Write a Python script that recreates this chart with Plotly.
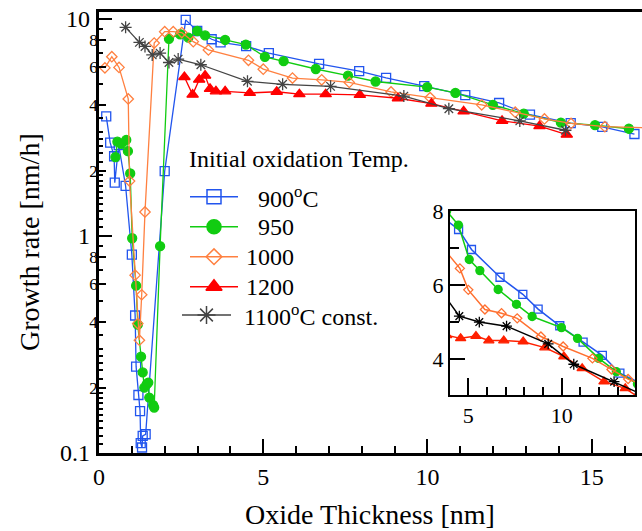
import plotly.graph_objects as go

# Growth rate [nm/h] versus oxide thickness [nm] for each initial oxidation temperature
x_900 = [0.22, 0.34, 0.46, 0.48, 0.60, 0.81, 1.00, 1.10, 1.13, 1.20, 1.25, 1.27, 1.31, 1.33, 1.42,
         2.00, 2.64, 2.99, 3.43, 3.70, 4.48, 5.17, 6.70, 7.92, 8.74, 9.90, 11.15, 12.18, 13.12,
         14.36, 15.32, 16.30]
y_900 = [3.56, 2.69, 2.33, 1.76, 2.62, 1.70, 0.82, 0.43, 0.25, 0.185, 0.156, 0.111, 0.106, 0.120, 0.122,
         1.99, 9.9, 8.8, 8.06, 7.8, 7.5, 6.96, 6.21, 5.75, 5.35, 4.9, 4.46, 4.1, 3.62,
         3.31, 3.18, 2.95]

x_950 = [0.50, 0.56, 0.68, 0.83, 0.88, 0.95, 1.01, 1.13, 1.18, 1.28, 1.33, 1.38, 1.45, 1.50, 1.53,
         1.65, 1.68, 1.86, 2.13, 2.47, 2.72, 2.99, 3.23, 3.84, 4.47, 5.05, 5.62, 6.60, 7.58, 8.42,
         9.99, 10.85, 11.99, 12.93, 14.06, 15.10, 16.13]
y_950 = [2.31, 2.72, 2.66, 2.77, 2.46, 1.94, 0.976, 0.59, 0.39, 0.278, 0.235, 0.200, 0.207, 0.211, 0.180,
         0.166, 0.162, 0.897, 8.1, 8.5, 8.2, 8.8, 8.4, 8.0, 7.62, 6.69, 6.39, 5.88, 5.48, 5.15,
         4.85, 4.56, 4.02, 3.66, 3.33, 3.24, 3.12]

x_1000 = [0.18, 0.39, 0.61, 0.89, 0.93, 1.10, 1.18, 1.23, 1.30, 1.40, 1.68, 2.00, 2.26, 2.52, 2.87,
          3.33, 4.55, 5.00, 5.89, 6.78, 7.62, 8.89, 10.08, 11.65, 12.67, 13.56, 14.37, 15.40, 16.70]
y_1000 = [5.95, 6.7, 5.98, 4.28, 1.79, 0.66, 0.395, 0.331, 0.536, 1.29, 7.74, 8.74, 8.74, 8.66, 7.86,
          7.2, 6.45, 5.87, 5.34, 5.24, 5.1, 4.61, 4.34, 4.02, 3.72, 3.46, 3.30, 3.19, 3.15]

x_1200 = [2.60, 2.85, 3.05, 3.23, 3.38, 3.56, 3.84, 4.59, 5.41, 6.10, 6.90, 7.94, 9.10, 10.12,
          11.10, 12.27, 13.41, 14.24]
y_1200 = [5.4, 4.48, 5.25, 5.48, 4.76, 4.64, 4.64, 4.56, 4.62, 4.5, 4.5, 4.47, 4.31, 4.07,
          3.75, 3.39, 3.21, 2.93]

x_1100c = [0.81, 1.23, 1.40, 1.62, 1.86, 2.13, 2.41, 3.10, 4.52, 5.59, 7.05, 9.28, 10.65, 12.81, 14.20]
y_1100c = [9.15, 7.8, 7.47, 6.83, 6.96, 6.3, 6.53, 6.15, 5.16, 5.0, 4.89, 4.41, 3.86, 3.39, 3.07]

legend_title = "Initial oxidation Temp."
legend_labels = ["900<sup>o</sup>C", "950", "1000", "1200", "1100<sup>o</sup>C const."]

x_ticks = [0, 5, 10, 15]
y_decades = [0.1, 1, 10]
y_decade_text = ["0.1", "1", "10"]
y_sub = [0.2, 0.4, 0.6, 0.8, 2, 4, 6, 8]
y_sub_text = ["2", "4", "6", "8", "2", "4", "6", "8"]

inset_x_ticks = [5, 10]
inset_y_ticks = [4, 6, 8]

FONT = "Liberation Serif, Times New Roman, serif"
W, H = 642, 531
L, R, T, B = 99, 0, 12, 78
PW, PH = W - L - R, H - T - B


def px(xp):
    return (xp - L) / PW


def py(yp):
    return (H - B - yp) / PH


series = [
    dict(x=x_900, y=y_900, color="#2255ee", symbol="square-open", size=9, lsize=14),
    dict(x=x_950, y=y_950, color="#11cc11", symbol="circle", size=9, lsize=14),
    dict(x=x_1000, y=y_1000, color="#ff8040", symbol="diamond-open", size=8, lsize=12),
    dict(x=x_1200, y=y_1200, color="#ff0000", symbol="triangle-up", size=10, lsize=14),
    dict(x=x_1100c, y=y_1100c, color="#444444", symbol="asterisk-open", size=10, lsize=15),
]
inset_colors = ["#2255ee", "#11cc11", "#ff7030", "#ff2000", "#000000"]

fig = go.Figure()

# main panel
for s in series:
    fig.add_trace(go.Scatter(
        x=s["x"], y=s["y"], mode="lines+markers",
        line=dict(color=s["color"], width=1.3),
        marker=dict(symbol=s["symbol"], size=s["size"], color=s["color"],
                    line=dict(color=s["color"], width=1.3)),
        xaxis="x", yaxis="y", showlegend=False, hoverinfo="skip"))

# empty trace so the decade-label axis gets drawn
fig.add_trace(go.Scatter(x=[None], y=[None], mode="markers", xaxis="x", yaxis="y2",
                         showlegend=False, hoverinfo="skip"))

# inset panel (same data, linear scale)
for s, c in zip(series, inset_colors):
    fig.add_trace(go.Scatter(
        x=s["x"], y=s["y"], mode="lines+markers",
        line=dict(color=c, width=1.5),
        marker=dict(symbol=s["symbol"], size=s["size"] - 1, color=c,
                    line=dict(color=c, width=1.3)),
        xaxis="x4", yaxis="y4", showlegend=False, hoverinfo="skip"))

# hand-placed legend (pixel coordinate overlay)
leg_rows = [
    (196.7, 190, 238, 256),
    (226.7, 190, 238, 256),
    (256.7, 190, 238, 244),
    (286.7, 190, 238, 244),
    (315.0, 182, 231, 242),
]
annotations = []
for s, lab, (yy, x0, x1, xt) in zip(series, legend_labels, leg_rows):
    fig.add_trace(go.Scatter(
        x=[x0, x1], y=[yy, yy], mode="lines", line=dict(color=s["color"], width=1.5),
        xaxis="x3", yaxis="y3", showlegend=False, hoverinfo="skip"))
    fig.add_trace(go.Scatter(
        x=[(x0 + x1) / 2], y=[yy], mode="markers",
        marker=dict(symbol=s["symbol"], size=s["lsize"], color=s["color"],
                    line=dict(color=s["color"], width=1.5)),
        xaxis="x3", yaxis="y3", showlegend=False, hoverinfo="skip"))
    annotations.append(dict(x=px(xt), y=py(yy), xref="paper", yref="paper", text=lab,
                            showarrow=False, xanchor="left", yanchor="middle",
                            font=dict(family=FONT, size=24, color="black")))

annotations.append(dict(x=px(187), y=py(159), xref="paper", yref="paper", text=legend_title,
                        showarrow=False, xanchor="left", yanchor="middle",
                        font=dict(family=FONT, size=24, color="black")))
annotations.append(dict(x=px(370), y=py(514), xref="paper", yref="paper",
                        text="Oxide Thickness [nm]", showarrow=False,
                        xanchor="center", yanchor="middle",
                        font=dict(family=FONT, size=28, color="black")))
annotations.append(dict(x=px(29), y=py(242), xref="paper", yref="paper",
                        text="Growth rate [nm/h]", showarrow=False, textangle=-90,
                        xanchor="center", yanchor="middle",
                        font=dict(family=FONT, size=28, color="black")))

minor_y = ([0.11 + 0.01 * i for i in range(9)] + [0.22, 0.24, 0.26, 0.28, 0.3, 0.35, 0.5, 0.7, 0.9]
           + [1.1 + 0.1 * i for i in range(9)] + [2.2, 2.4, 2.6, 2.8, 3, 3.5, 5, 7, 9])

fig.update_layout(
    width=W, height=H,
    margin=dict(l=L, r=R, t=T, b=B, pad=0),
    paper_bgcolor="white", plot_bgcolor="rgba(0,0,0,0)",
    font=dict(family=FONT, color="black"),
    annotations=annotations,
    xaxis=dict(domain=[0, 1], range=[0, 16.53], anchor="y",
               tickmode="array", tickvals=x_ticks, ticks="inside", ticklen=14, tickwidth=2,
               tickcolor="black", tickfont=dict(family=FONT, size=24),
               minor=dict(tickvals=[1, 2, 3, 4, 6, 7, 8, 9, 11, 12, 13, 14, 16], ticks="inside",
                          ticklen=7, tickwidth=1.5, tickcolor="black"),
               showline=True, linewidth=2.5, linecolor="black", mirror=True,
               showgrid=False, zeroline=False),
    yaxis=dict(domain=[0, 1], type="log", range=[-1, 1.032], anchor="x",
               tickmode="array", tickvals=y_sub, ticktext=y_sub_text,
               ticks="inside", ticklen=7, tickwidth=2, tickcolor="black",
               tickfont=dict(family=FONT, size=17), ticklabelstandoff=-5,
               minor=dict(tickvals=minor_y, ticks="inside", ticklen=4, tickwidth=1.5,
                          tickcolor="black"),
               showline=True, linewidth=2.5, linecolor="black", mirror=False,
               showgrid=False, zeroline=False),
    yaxis2=dict(overlaying="y", type="log", range=[-1, 1.032], anchor="x", side="left",
                tickmode="array", tickvals=y_decades, ticktext=y_decade_text,
                ticks="inside", ticklen=13, tickwidth=2, tickcolor="black",
                tickfont=dict(family=FONT, size=24), ticklabelstandoff=8,
                showline=False, showgrid=False, zeroline=False),
    xaxis3=dict(domain=[0, 1], range=[L, W - R], anchor="y3", visible=False, fixedrange=True),
    yaxis3=dict(domain=[0, 1], range=[H - B, T], anchor="x3", visible=False, fixedrange=True),
    xaxis4=dict(domain=[px(450), px(635)], range=[4.02, 13.93], anchor="y4",
                tickmode="array", tickvals=inset_x_ticks, ticks="inside", ticklen=17, tickwidth=2,
                tickcolor="black", tickfont=dict(family=FONT, size=22),
                minor=dict(tickvals=[6, 7, 8, 9, 11, 12, 13], ticks="inside", ticklen=8,
                           tickwidth=2, tickcolor="black"),
                showline=True, linewidth=2, linecolor="black", mirror=True,
                showgrid=False, zeroline=False),
    yaxis4=dict(domain=[py(395), py(211)], range=[3.03, 8.0], anchor="x4",
                tickmode="array", tickvals=inset_y_ticks, ticks="inside", ticklen=15, tickwidth=2,
                tickcolor="black", tickfont=dict(family=FONT, size=22),
                minor=dict(tickvals=[5, 7], ticks="inside", ticklen=9, tickwidth=2,
                           tickcolor="black"),
                showline=True, linewidth=2, linecolor="black", mirror=True,
                showgrid=False, zeroline=False),
)

fig.write_html("out.html")
